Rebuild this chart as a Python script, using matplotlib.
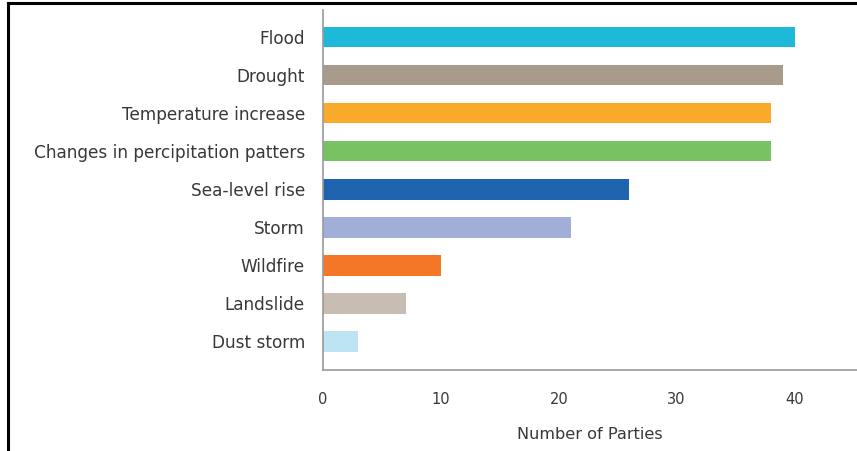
import matplotlib.pyplot as plt
from matplotlib.lines import Line2D

plt.rcParams['font.family'] = ['DejaVu Sans']

# climate hazards reported, bottom to top
hazards = ["Dust storm", "Landslide", "Wildfire", "Storm", "Sea-level rise",
           "Changes in percipitation patters", "Temperature increase",
           "Drought", "Flood"]
parties = [3, 7, 10, 21, 26, 38, 38, 39, 40]
colors = ["#BDE4F2", "#C8BDB3", "#F37726", "#A0AED8", "#1E63AE",
          "#79C263", "#F9AA2A", "#A89B8C", "#1EB8D8"]

fig = plt.figure(figsize=(8.57, 4.51), dpi=100)
ax = fig.add_axes([0.3769, 0.1796, 0.6231, 0.7982])

ax.barh(range(len(hazards)), parties, height=0.55, color=colors)

ax.set_xlim(0, 45.3)
ax.set_ylim(-0.76, 8.71)
ax.set_xticks([0, 10, 20, 30, 40])
ax.set_yticks(range(len(hazards)))
ax.set_yticklabels(hazards)
ax.tick_params(axis='y', length=0, pad=13, labelsize=12.2, labelcolor="#383838")
ax.tick_params(axis='x', length=0, pad=16, labelsize=10.5, labelcolor="#383838")
ax.set_xlabel("Number of Parties", fontsize=11.6, color="#383838", labelpad=14)

for side in ["top", "right"]:
    ax.spines[side].set_visible(False)
for side in ["left", "bottom"]:
    ax.spines[side].set_color("#999999")
    ax.spines[side].set_linewidth(1.2)

# outer frame on top and left edges
fig.add_artist(Line2D([8 / 857, 1], [1 - 3 / 451, 1 - 3 / 451],
                      transform=fig.transFigure, color="black", lw=2.2))
fig.add_artist(Line2D([8 / 857, 8 / 857], [0, 1 - 3 / 451],
                      transform=fig.transFigure, color="black", lw=2.2))

fig.savefig("out.png", dpi=100)
